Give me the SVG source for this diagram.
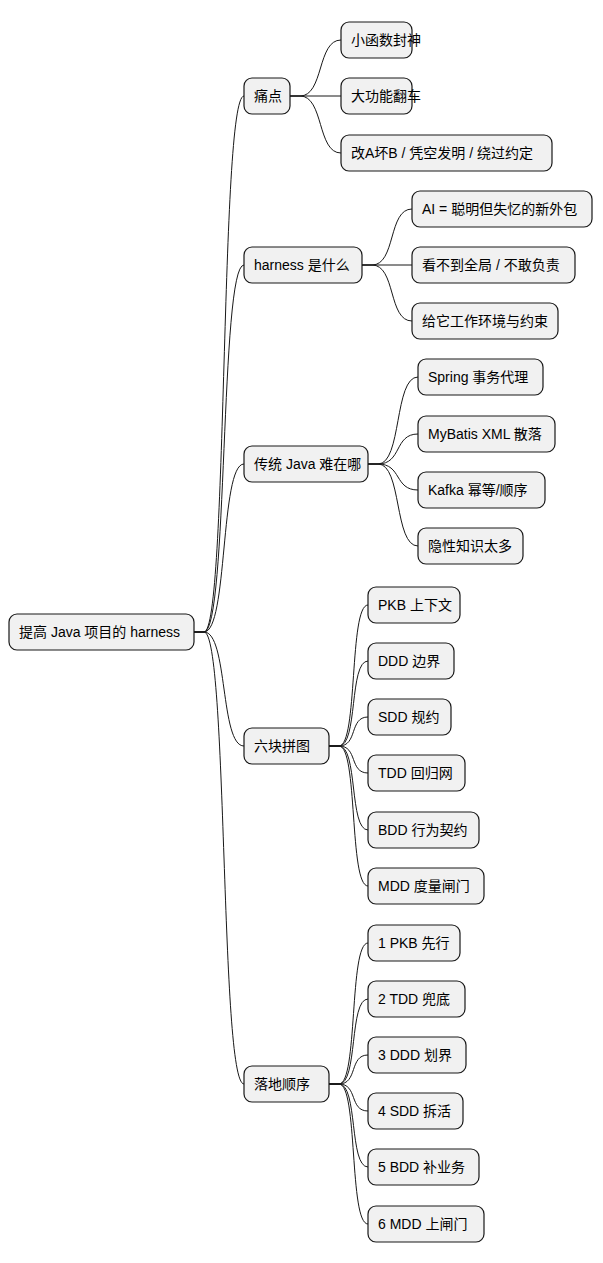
<svg xmlns="http://www.w3.org/2000/svg" width="603" height="1263" viewBox="0 0 603 1263">
<style>
.n rect{fill:#F1F1F1;stroke:#181818;stroke-width:1.2}
.n text{font-family:"Liberation Sans","Noto Sans CJK SC",sans-serif;font-size:14px;fill:#000}
.c path{fill:none;stroke:#181818;stroke-width:1}
</style>
<rect width="603" height="1263" fill="#fff"/>
<g class="c">
<path d="M194,632 L204,632 C228,632 220,96 244,96"/>
<path d="M194,632 L204,632 C228,632 220,265 244,265"/>
<path d="M194,632 L204,632 C228,632 220,464 244,464"/>
<path d="M194,632 L204,632 C228,632 220,746 244,746"/>
<path d="M194,632 L204,632 C228,632 220,1084 244,1084"/>
<path d="M290,96 L300,96 C324,96 317,40 341,40"/>
<path d="M290,96 L341,96"/>
<path d="M290,96 L300,96 C324,96 317,153 341,153"/>
<path d="M362,265 L372,265 C396,265 388,209 412,209"/>
<path d="M362,265 L412,265"/>
<path d="M362,265 L372,265 C396,265 388,321 412,321"/>
<path d="M368,464 L378,464 C402,464 394,377 418,377"/>
<path d="M368,464 L378,464 C402,464 394,434 418,434"/>
<path d="M368,464 L378,464 C402,464 394,490 418,490"/>
<path d="M368,464 L378,464 C402,464 394,546 418,546"/>
<path d="M329,746 L339,746 C358,746 349,605 368,605"/>
<path d="M329,746 L339,746 C358,746 349,661 368,661"/>
<path d="M329,746 L339,746 C358,746 349,717 368,717"/>
<path d="M329,746 L339,746 C358,746 349,773 368,773"/>
<path d="M329,746 L339,746 C358,746 349,830 368,830"/>
<path d="M329,746 L339,746 C358,746 349,886 368,886"/>
<path d="M329,1084 L339,1084 C358,1084 349,943 368,943"/>
<path d="M329,1084 L339,1084 C358,1084 349,999 368,999"/>
<path d="M329,1084 L339,1084 C358,1084 349,1055 368,1055"/>
<path d="M329,1084 L339,1084 C358,1084 349,1111 368,1111"/>
<path d="M329,1084 L339,1084 C358,1084 349,1167 368,1167"/>
<path d="M329,1084 L339,1084 C358,1084 349,1224 368,1224"/>
</g>
<g class="n" id="root"><rect x="9" y="614" width="185" height="36" rx="8"/><text x="19" y="637">提高 Java 项目的 harness</text></g>
<g class="n" id="n1"><rect x="244" y="78" width="46" height="36" rx="8"/><text x="254" y="101">痛点</text></g>
<g class="n" id="n2"><rect x="244" y="247" width="118" height="36" rx="8"/><text x="254" y="270">harness 是什么</text></g>
<g class="n" id="n3"><rect x="244" y="446" width="124" height="36" rx="8"/><text x="254" y="469">传统 Java 难在哪</text></g>
<g class="n" id="n4"><rect x="244" y="728" width="85" height="36" rx="8"/><text x="254" y="751">六块拼图</text></g>
<g class="n" id="n5"><rect x="244" y="1066" width="85" height="36" rx="8"/><text x="254" y="1089">落地顺序</text></g>
<g class="n" id="n1a"><rect x="341" y="22" width="71" height="36" rx="8"/><text x="351" y="45">小函数封神</text></g>
<g class="n" id="n1b"><rect x="341" y="78" width="71" height="36" rx="8"/><text x="351" y="101">大功能翻车</text></g>
<g class="n" id="n1c"><rect x="341" y="135" width="211" height="36" rx="8"/><text x="351" y="158">改A坏B / 凭空发明 / 绕过约定</text></g>
<g class="n" id="n2a"><rect x="412" y="191" width="180" height="36" rx="8"/><text x="422" y="214">AI = 聪明但失忆的新外包</text></g>
<g class="n" id="n2b"><rect x="412" y="247" width="163" height="36" rx="8"/><text x="422" y="270">看不到全局 / 不敢负责</text></g>
<g class="n" id="n2c"><rect x="412" y="303" width="146" height="36" rx="8"/><text x="422" y="326">给它工作环境与约束</text></g>
<g class="n" id="n3a"><rect x="418" y="359" width="125" height="36" rx="8"/><text x="428" y="382">Spring 事务代理</text></g>
<g class="n" id="n3b"><rect x="418" y="416" width="137" height="36" rx="8"/><text x="428" y="439">MyBatis XML 散落</text></g>
<g class="n" id="n3c"><rect x="418" y="472" width="127" height="36" rx="8"/><text x="428" y="495">Kafka 幂等/顺序</text></g>
<g class="n" id="n3d"><rect x="418" y="528" width="105" height="36" rx="8"/><text x="428" y="551">隐性知识太多</text></g>
<g class="n" id="n4a"><rect x="368" y="587" width="92" height="36" rx="8"/><text x="378" y="610">PKB 上下文</text></g>
<g class="n" id="n4b"><rect x="368" y="643" width="86" height="36" rx="8"/><text x="378" y="666">DDD 边界</text></g>
<g class="n" id="n4c"><rect x="368" y="699" width="83" height="36" rx="8"/><text x="378" y="722">SDD 规约</text></g>
<g class="n" id="n4d"><rect x="368" y="755" width="97" height="36" rx="8"/><text x="378" y="778">TDD 回归网</text></g>
<g class="n" id="n4e"><rect x="368" y="812" width="111" height="36" rx="8"/><text x="378" y="835">BDD 行为契约</text></g>
<g class="n" id="n4f"><rect x="368" y="868" width="116" height="36" rx="8"/><text x="378" y="891">MDD 度量闸门</text></g>
<g class="n" id="n5a"><rect x="368" y="925" width="92" height="36" rx="8"/><text x="378" y="948">1 PKB 先行</text></g>
<g class="n" id="n5b"><rect x="368" y="981" width="97" height="36" rx="8"/><text x="378" y="1004">2 TDD 兜底</text></g>
<g class="n" id="n5c"><rect x="368" y="1037" width="98" height="36" rx="8"/><text x="378" y="1060">3 DDD 划界</text></g>
<g class="n" id="n5d"><rect x="368" y="1093" width="95" height="36" rx="8"/><text x="378" y="1116">4 SDD 拆活</text></g>
<g class="n" id="n5e"><rect x="368" y="1149" width="111" height="36" rx="8"/><text x="378" y="1172">5 BDD 补业务</text></g>
<g class="n" id="n5f"><rect x="368" y="1206" width="116" height="36" rx="8"/><text x="378" y="1229">6 MDD 上闸门</text></g>
</svg>
